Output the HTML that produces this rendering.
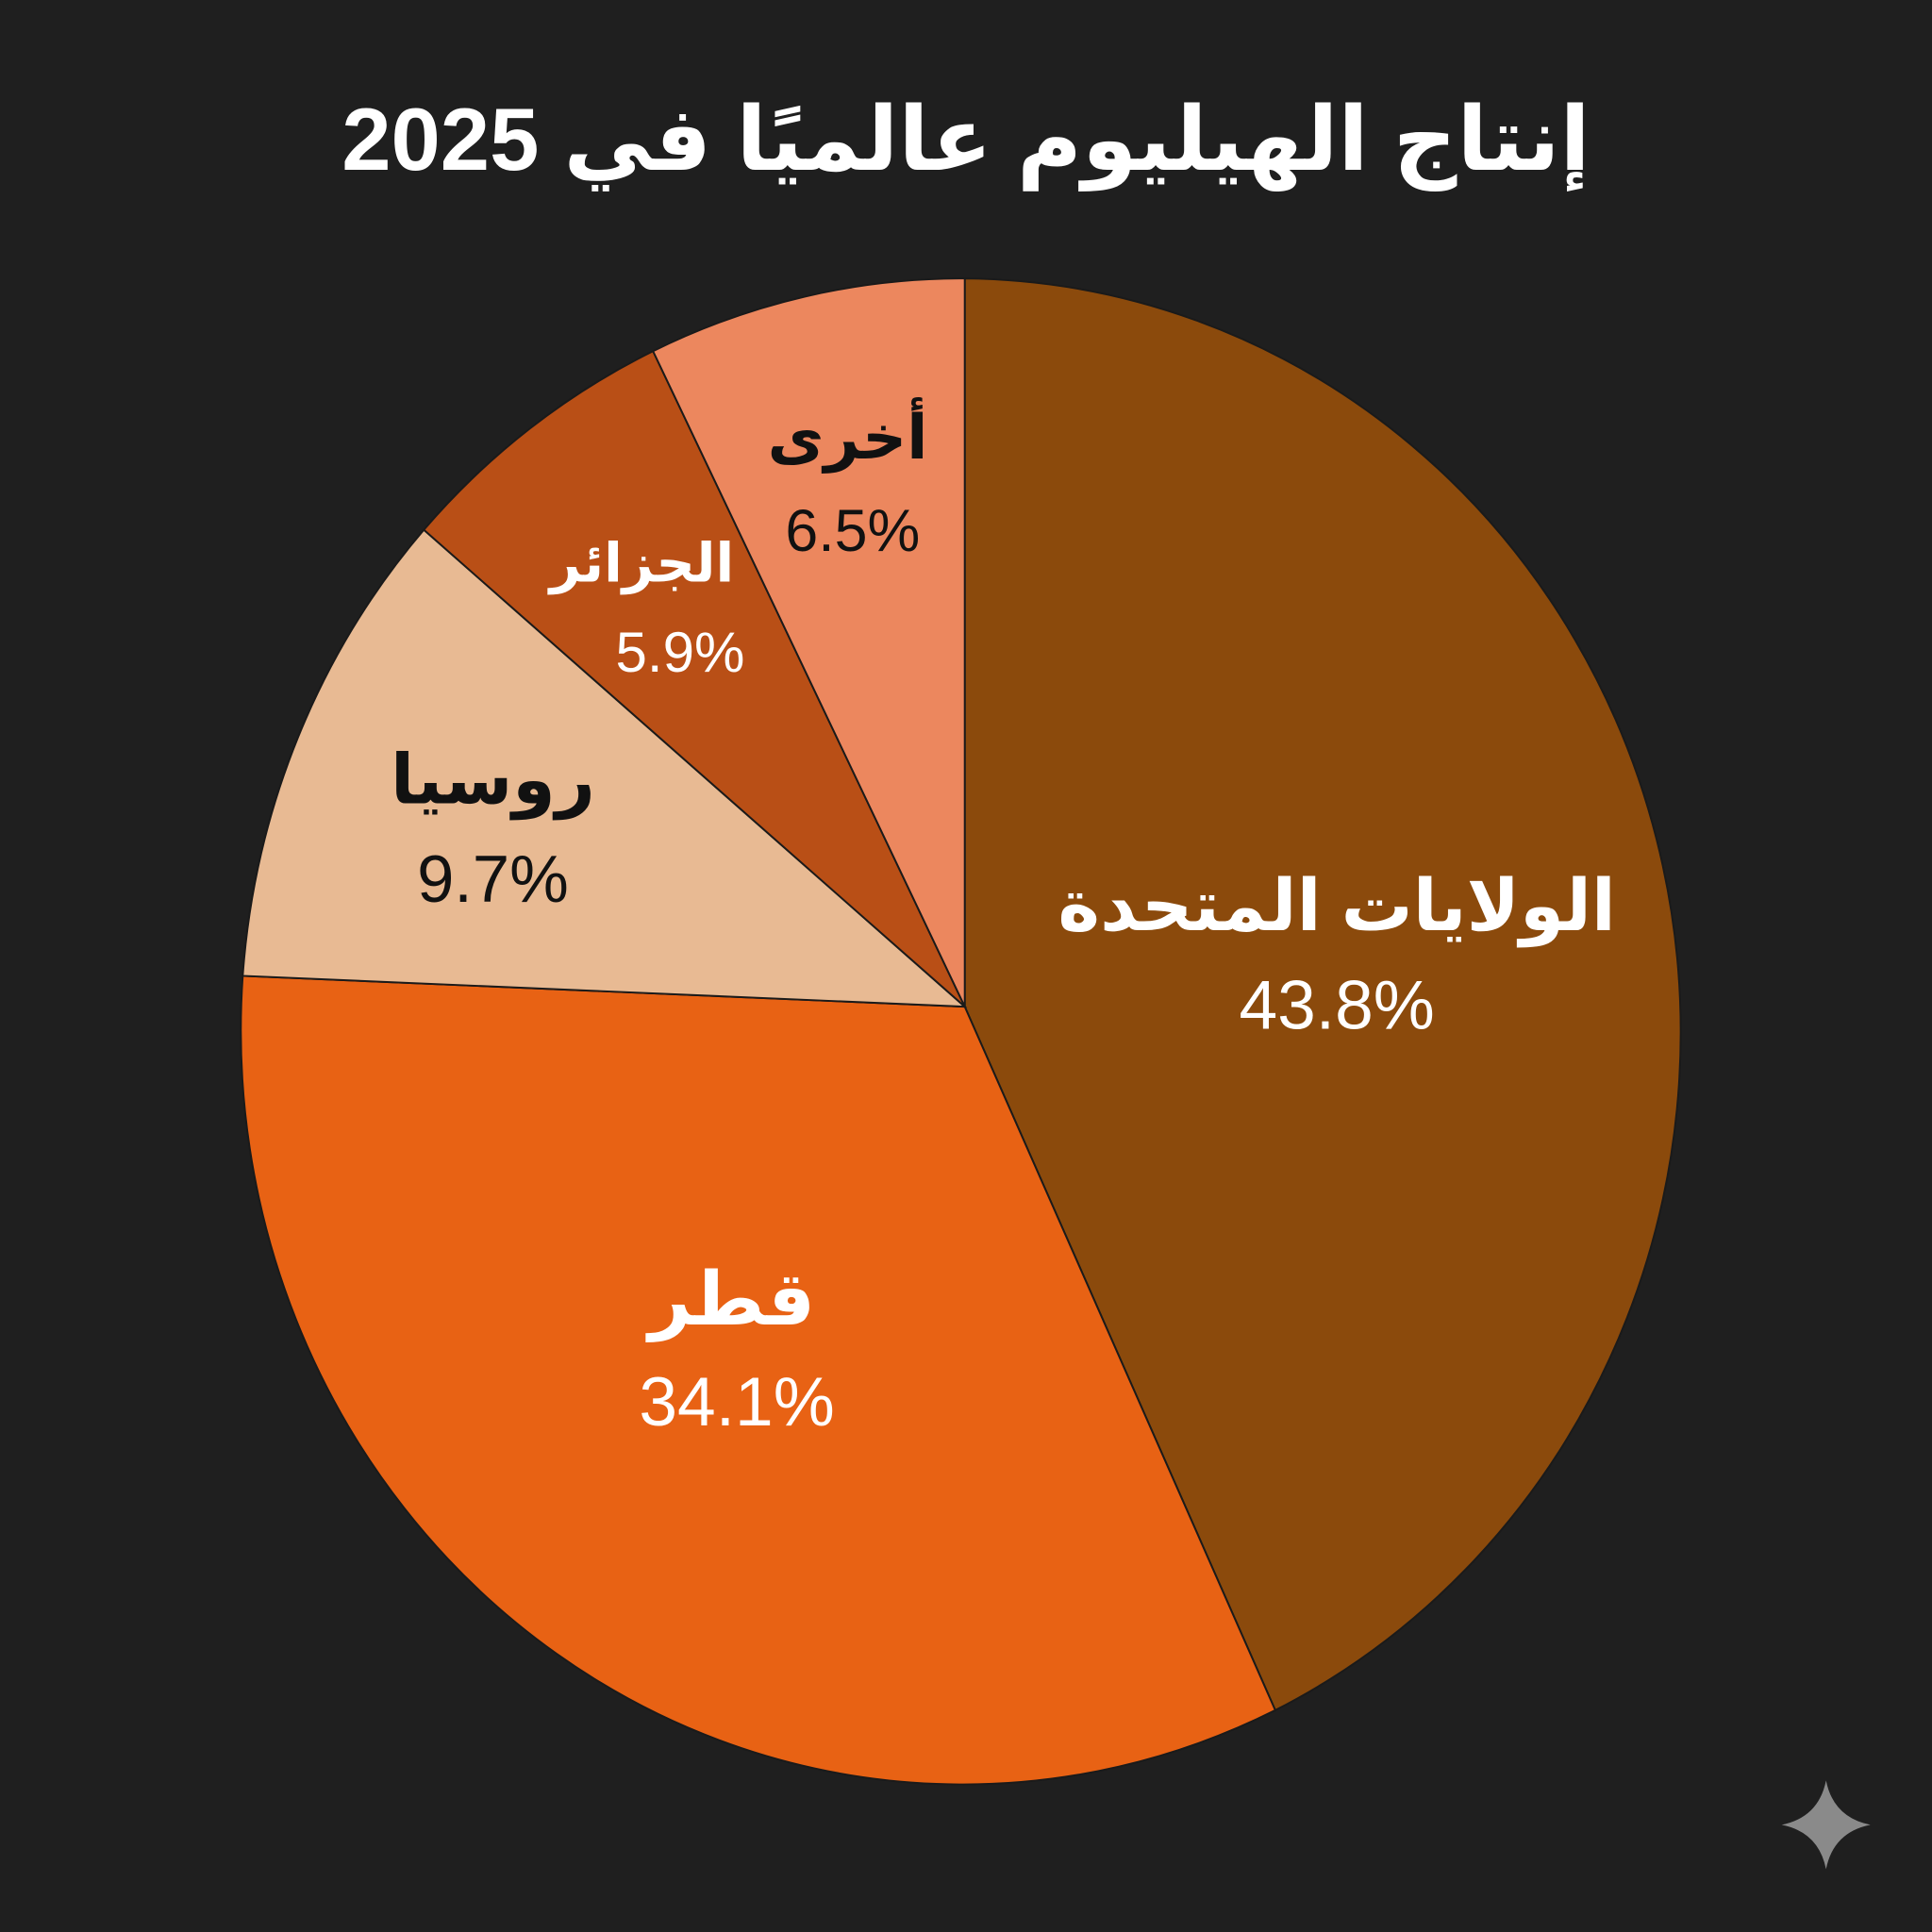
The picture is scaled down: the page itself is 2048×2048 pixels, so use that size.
<!DOCTYPE html>
<html><head><meta charset="utf-8"><style>
html,body{margin:0;padding:0;background:#1f1f1f;}
svg{display:block}
</style></head><body>
<svg width="2048" height="2048" viewBox="0 0 1568 1568" xmlns="http://www.w3.org/2000/svg">
<rect width="1568" height="1568" fill="#1f1f1f"/>
<text x="784" y="138" text-anchor="middle" fill="#fff" font-family="'Liberation Sans','DejaVu Sans',sans-serif" font-weight="bold" font-size="72" direction="rtl">إنتاج الهيليوم عالميًا في 2025</text>
<g stroke="#1a1a1a" stroke-width="1.5">
<path d="M783,817 L783,226 A586,612 0 0 1 1035,1388 Z" fill="#8B4A0C"/>
<path d="M783,817 L1035,1388 A586,612 0 0 1 197,792 Z" fill="#E86214"/>
<path d="M783,817 L197,792 A586,612 0 0 1 344,430 Z" fill="#E8BA93"/>
<path d="M783,817 L344,430 A586,612 0 0 1 530,285 Z" fill="#B94F16"/>
<path d="M783,817 L530,285 A586,612 0 0 1 783,226 Z" fill="#EC875E"/>
</g>
<g font-family="'Liberation Sans','DejaVu Sans',sans-serif" text-anchor="middle">
<text x="1085" y="755" fill="#fff" font-weight="bold" font-size="58">الولايات المتحدة</text>
<text x="1085" y="835" fill="#fff" font-size="56">43.8%</text>
<text x="594" y="1075" fill="#fff" font-weight="bold" font-size="60">قطر</text>
<text x="598" y="1157" fill="#fff" font-size="56">34.1%</text>
<text x="400" y="652" fill="#111" font-weight="bold" font-size="56">روسيا</text>
<text x="400" y="732" fill="#111" font-size="54">9.7%</text>
<text x="521" y="472" fill="#fff" font-weight="bold" font-size="44">الجزائر</text>
<text x="552" y="545" fill="#fff" font-size="46">5.9%</text>
<text x="688" y="372" fill="#111" font-weight="bold" font-size="50">أخرى</text>
<text x="692" y="447" fill="#111" font-size="48">6.5%</text>
</g>
<path d="M1482,1445 Q1488,1475 1518,1481 Q1488,1487 1482,1517 Q1476,1487 1446,1481 Q1476,1475 1482,1445 Z" fill="#8a8a8a"/>
</svg>
</body></html>
